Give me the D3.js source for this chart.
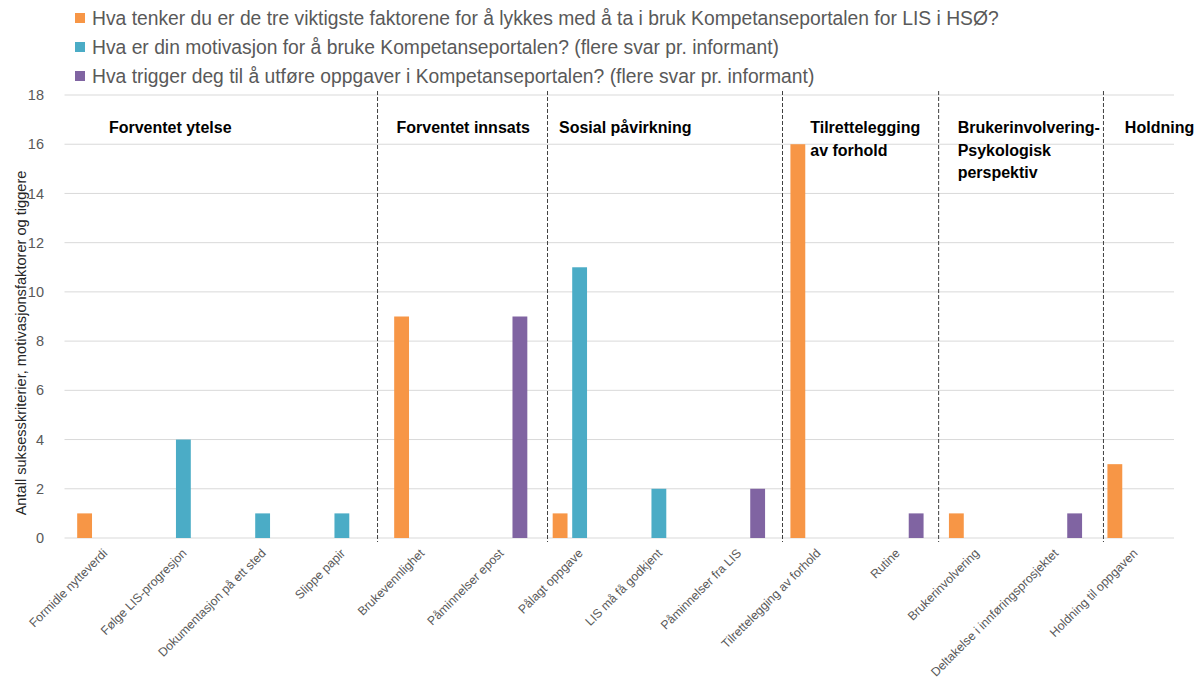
<!DOCTYPE html>
<html><head><meta charset="utf-8">
<script src="https://cdn.jsdelivr.net/npm/d3@7"></script>
<style>body{margin:0;background:#fff}svg{display:block}</style>
</head><body><svg id="c" width="1203" height="678"></svg>
<script>
const categories = ["Formidle nytteverdi","Følge LIS-progresjon","Dokumentasjon på ett sted","Slippe papir","Brukevennlighet","Påminnelser epost","Pålagt oppgave","LIS må få godkjent","Påminnelser fra LIS","Tilrettelegging av forhold","Rutine","Brukerinvolvering","Deltakelse i innføringsprosjektet","Holdning til oppgaven"];
const seriesNames = ["Hva tenker du er de tre viktigste faktorene for å lykkes med å ta i bruk Kompetanseportalen for LIS i HSØ?","Hva er din motivasjon for å bruke Kompetanseportalen? (flere svar pr. informant)","Hva trigger deg til å utføre oppgaver i Kompetanseportalen? (flere svar pr. informant)"];
const suksess    = [1,0,0,0,9,0,1,0,0,16,0,1,0,3];
const motivasjon = [0,4,1,1,0,0,11,2,0,0,0,0,0,0];
const trigger    = [0,0,0,0,0,9,0,0,2,0,1,0,1,0];
const colors = ["#F79646","#4BACC6","#8064A2"];
const yTicks = [0,2,4,6,8,10,12,14,16,18];
const yTitle = "Antall suksesskriterier, motivasjonsfaktorer og tiggere";
// group separators (in category-index units) and group labels
const separators = [3.95, 6.095, 9.06, 11.03, 13.11];
const groupLabels = [
  {pos:0.56, lines:["Forventet ytelse"]},
  {pos:4.19, lines:["Forventet innsats"]},
  {pos:6.24, lines:["Sosial påvirkning"]},
  {pos:9.41, lines:["Tilrettelegging","av forhold"]},
  {pos:11.27, lines:["Brukerinvolvering-","Psykologisk","perspektiv"]},
  {pos:13.38, lines:["Holdning"]}
];
const labelValue = 16.45;

const series = [suksess, motivasjon, trigger];
const svg = d3.select("#c");
const pLeft = 64.5, pRight = 1174, pTop = 95, pBottom = 538;
const font = "'Liberation Sans', Arial, sans-serif";

const y = d3.scaleLinear().domain([0,18]).range([pBottom, pTop]);
const x0 = d3.scaleBand().domain(categories).range([pLeft,pRight]).paddingInner(0.32).paddingOuter(0.16);
const x1 = d3.scaleBand().domain([0,1,2]).range([0, x0.bandwidth()]).paddingInner(0.24);
const xu = d3.scaleLinear().domain([0, categories.length]).range([pLeft, pRight]);

// gridlines
svg.append("g").selectAll("line").data(yTicks).join("line")
  .attr("x1", pLeft).attr("x2", pRight).attr("y1", d=>y(d)).attr("y2", d=>y(d))
  .attr("stroke", "#d9d9d9").attr("stroke-width", 1);

// y axis labels
const yAxis = d3.axisLeft(y).tickValues(yTicks).tickSize(0).tickPadding(0);
const ga = svg.append("g").attr("transform", `translate(44,0)`).call(yAxis);
ga.select(".domain").remove();
ga.selectAll("text").attr("font-family", font).attr("font-size", 14.5).attr("fill", "#595959");

// bars
const flat = [];
series.forEach((s, si) => s.forEach((v, ci) => flat.push({si, ci, v})));
svg.append("g").selectAll("rect").data(flat.filter(d=>d.v>0)).join("rect")
  .attr("x", d => x0(categories[d.ci]) + x1(d.si))
  .attr("width", x1.bandwidth())
  .attr("y", d => y(d.v))
  .attr("height", d => y(0) - y(d.v))
  .attr("fill", d => colors[d.si]);

// x axis
const xAxis = d3.axisBottom(x0).tickSize(0).tickPadding(0);
const gx = svg.append("g").attr("transform", `translate(0,${pBottom})`).call(xAxis);
gx.select(".domain").remove();
gx.selectAll("text")
  .attr("font-family", font).attr("font-size", 12.3).attr("fill", "#595959")
  .attr("text-anchor", "end").attr("dy", null).attr("y", 0)
  .attr("transform", "translate(4,16) rotate(-45)");

// separators
svg.append("g").selectAll("line").data(separators).join("line")
  .attr("x1", d=>xu(d)).attr("x2", d=>xu(d)).attr("y1", pTop-4).attr("y2", pBottom+4)
  .attr("stroke", "#404040").attr("stroke-width", 1).attr("stroke-dasharray", "4,2");

// group labels
groupLabels.forEach(g => {
  const t = svg.append("text").attr("x", xu(g.pos)).attr("y", y(labelValue))
    .attr("font-family", font).attr("font-size", 16).attr("font-weight", "bold").attr("fill", "#000");
  g.lines.forEach((l, i) => t.append("tspan").attr("x", xu(g.pos)).attr("dy", i===0?0:22.5).text(l));
});

// y title
svg.append("text").attr("transform", "translate(26,343) rotate(-90)")
  .attr("text-anchor", "middle").attr("font-family", font).attr("font-size", 14.6)
  .attr("fill", "#262626").text(yTitle);

// legend
const lg = svg.append("g").selectAll("g").data(seriesNames).join("g")
  .attr("transform", (d,i) => `translate(75,${18 + i*29})`);
lg.append("rect").attr("x",0).attr("y",-5).attr("width",10).attr("height",10).attr("fill",(d,i)=>colors[i]);
lg.append("text").attr("x",17).attr("y",0).attr("dy","0.35em")
  .attr("font-family", font).attr("font-size", 19.3).attr("fill","#595959").text(d=>d);
</script></body></html>
